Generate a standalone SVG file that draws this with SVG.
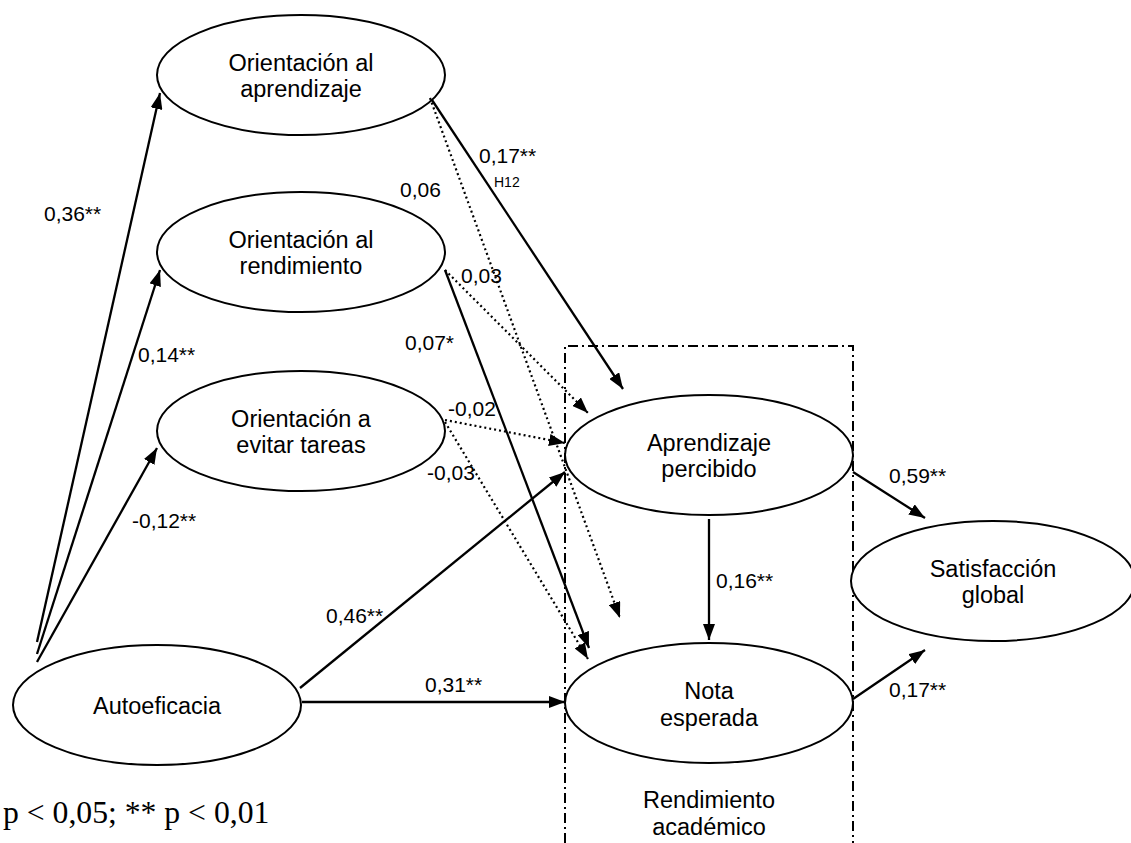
<svg xmlns="http://www.w3.org/2000/svg" width="1131" height="843" viewBox="0 0 1131 843">
<style>
.node ellipse{fill:#fff;stroke:#000;stroke-width:2}
.nt{font-family:"Liberation Sans",Arial,sans-serif;font-size:23.5px;text-anchor:middle;fill:#000}
.lbl{font-family:"Liberation Sans",Arial,sans-serif;font-size:21px;fill:#000}
.sm{font-family:"Liberation Sans",Arial,sans-serif;font-size:14px;fill:#000}
.solid{stroke:#000;stroke-width:2.3;fill:none;marker-end:url(#ah)}
.dot{stroke:#000;stroke-width:2.2;fill:none;stroke-dasharray:2,3;marker-end:url(#ah)}
.box{stroke:#000;stroke-width:2;fill:none;stroke-dasharray:10,4,2,4}
</style>
<defs>
<marker id="ah" viewBox="0 0 16 12" refX="16" refY="6" markerWidth="16" markerHeight="12" markerUnits="userSpaceOnUse" orient="auto">
<path d="M0,0 L16,6 L0,12 z" fill="#000"/>
</marker>
</defs>
<rect width="1131" height="843" fill="#fff"/>
<path class="box" d="M565,843 V346 H853 V843"/>
<g id="nodes">
<g id="n-oa" class="node"><ellipse cx="301" cy="75" rx="144" ry="60"/><text class="nt" x="301" y="71">Orientación al</text><text class="nt" x="301" y="97">aprendizaje</text></g>
<g id="n-or" class="node"><ellipse cx="301" cy="252" rx="144" ry="60"/><text class="nt" x="301" y="248">Orientación al</text><text class="nt" x="301" y="274">rendimiento</text></g>
<g id="n-oet" class="node"><ellipse cx="301" cy="431" rx="144" ry="60"/><text class="nt" x="301" y="427">Orientación a</text><text class="nt" x="301" y="453">evitar tareas</text></g>
<g id="n-ap" class="node"><ellipse cx="709" cy="455" rx="144" ry="60"/><text class="nt" x="709" y="451">Aprendizaje</text><text class="nt" x="709" y="477">percibido</text></g>
<g id="n-ne" class="node"><ellipse cx="709" cy="703" rx="144" ry="60"/><text class="nt" x="709" y="699">Nota</text><text class="nt" x="709" y="726">esperada</text></g>
<g id="n-ae" class="node"><ellipse cx="157" cy="705" rx="144" ry="60"/><text class="nt" x="157" y="714">Autoeficacia</text></g>
<g id="n-sg" class="node"><ellipse cx="993" cy="581" rx="142" ry="60"/><text class="nt" x="993" y="577">Satisfacción</text><text class="nt" x="993" y="603">global</text></g>
</g>
<g id="connectors">
<line class="solid" x1="37" y1="642" x2="160" y2="93"/>
<line class="solid" x1="37" y1="654" x2="160" y2="270"/>
<line class="solid" x1="37" y1="662" x2="157" y2="448"/>
<line class="solid" x1="432" y1="100" x2="623" y2="389"/>
<line class="dot" x1="430" y1="98" x2="620" y2="618"/>
<line class="dot" x1="445" y1="270" x2="588" y2="413"/>
<line class="solid" x1="445" y1="270" x2="589" y2="648"/>
<line class="dot" x1="445" y1="420" x2="565" y2="443"/>
<line class="dot" x1="445" y1="422" x2="588" y2="659"/>
<line class="solid" x1="300" y1="688" x2="565" y2="472"/>
<line class="solid" x1="302" y1="702" x2="565" y2="702"/>
<line class="solid" x1="709" y1="519" x2="709" y2="640"/>
<line class="solid" x1="853" y1="472" x2="925" y2="518"/>
<line class="solid" x1="853" y1="699" x2="925" y2="650"/>
</g>
<g id="labels">
<text class="lbl" x="44" y="221">0,36**</text>
<text class="lbl" x="400" y="197">0,06</text>
<text class="lbl" x="479" y="163">0,17**</text>
<text class="sm" x="494" y="187">H12</text>
<text class="lbl" x="461" y="283">0,03</text>
<text class="lbl" x="405" y="350">0,07*</text>
<text class="lbl" x="138" y="362">0,14**</text>
<text class="lbl" x="448" y="416">-0,02</text>
<text class="lbl" x="427" y="480">-0,03</text>
<text class="lbl" x="132" y="528">-0,12**</text>
<text class="lbl" x="326" y="623">0,46**</text>
<text class="lbl" x="425" y="692">0,31**</text>
<text class="lbl" x="716" y="588">0,16**</text>
<text class="lbl" x="889" y="483">0,59**</text>
<text class="lbl" x="889" y="697">0,17**</text>
<text class="nt" x="709" y="808">Rendimiento</text>
<text class="nt" x="709" y="835">académico</text>
<text x="3" y="823" font-family="'Liberation Serif','Times New Roman',serif" font-size="31.7px" fill="#000">p &lt; 0,05; ** p &lt; 0,01</text>
</g>
</svg>
